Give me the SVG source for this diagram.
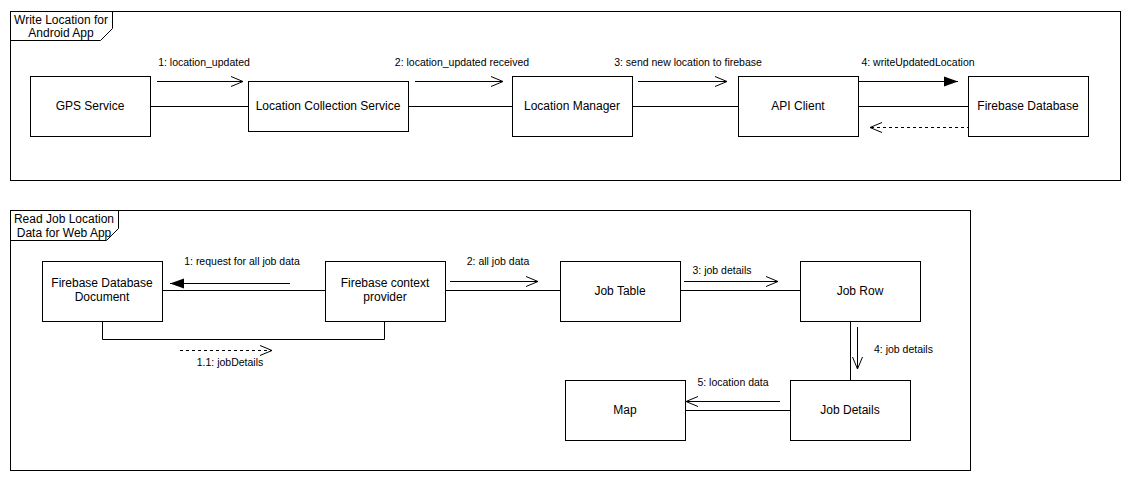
<svg xmlns="http://www.w3.org/2000/svg" width="1131" height="481" viewBox="0 0 1131 481">
<defs>
<marker id="open" markerWidth="14" markerHeight="12" refX="13" refY="6" orient="auto" markerUnits="userSpaceOnUse"><path d="M1,1 L13,6 L1,11" fill="none" stroke="#000" stroke-width="1"/></marker>
<marker id="fill" markerWidth="16" markerHeight="12" refX="15" refY="6" orient="auto" markerUnits="userSpaceOnUse"><path d="M1,1 L15,6 L1,11 Z" fill="#000"/></marker>
</defs>
<style>
rect.n{fill:#fff;stroke:#000;stroke-width:1}
text{font-family:"Liberation Sans",Arial,sans-serif;font-size:12px;fill:#000}
.t{text-anchor:middle}
.s{font-size:10.5px}
line,path.c{stroke:#000;stroke-width:1;fill:none}
</style>
<rect x="0" y="0" width="1131" height="481" fill="#fff"/>
<g id="frame1">
<rect x="10.5" y="11.5" width="1110" height="169" fill="none" stroke="#000"/>
<path d="M10.5,40.5 H100.5 L112.5,28.5 V11.5" fill="none" stroke="#000"/>
<text x="61" y="24" class="t">Write Location for</text>
<text x="61" y="37" class="t">Android App</text>
</g>
<g id="frame2">
<rect x="10.5" y="210.5" width="960" height="260" fill="none" stroke="#000"/>
<path d="M10.5,240.5 H106.5 L118.5,228.5 V210.5" fill="none" stroke="#000"/>
<text x="64" y="223" class="t">Read Job Location</text>
<text x="64" y="237" class="t">Data for Web App</text>
</g>
<g id="connectors">
<line x1="150" y1="106.5" x2="248" y2="106.5"/>
<line x1="408" y1="106.5" x2="512" y2="106.5"/>
<line x1="632" y1="106.5" x2="738" y2="106.5"/>
<line x1="858" y1="106.5" x2="968" y2="106.5"/>
<line x1="157" y1="81.5" x2="243" y2="81.5" marker-end="url(#open)"/>
<line x1="415" y1="81.5" x2="503" y2="81.5" marker-end="url(#open)"/>
<line x1="638" y1="81.5" x2="727" y2="81.5" marker-end="url(#open)"/>
<line x1="856" y1="81.5" x2="958" y2="81.5" stroke-width="2" marker-end="url(#fill)"/>
<line x1="970" y1="127.5" x2="870" y2="127.5" stroke-dasharray="3,3" marker-end="url(#open)"/>
<text x="204" y="66" class="t s">1: location_updated</text>
<text x="462" y="66" class="t s">2: location_updated received</text>
<text x="688" y="66" class="t s">3: send new location to firebase</text>
<text x="918" y="66" class="t s">4: writeUpdatedLocation</text>

<line x1="162" y1="290.5" x2="325" y2="290.5"/>
<path class="c" d="M102.5,321 V339.5 H384.5 V321"/>
<line x1="445" y1="290.5" x2="560" y2="290.5"/>
<line x1="680" y1="290.5" x2="800" y2="290.5"/>
<line x1="850.5" y1="321" x2="850.5" y2="380"/>
<line x1="685" y1="410.5" x2="790" y2="410.5"/>
<line x1="290" y1="283.5" x2="170" y2="283.5" stroke-width="2" marker-end="url(#fill)"/>
<line x1="180" y1="350.5" x2="272" y2="350.5" stroke-dasharray="3,3" marker-end="url(#open)"/>
<line x1="450" y1="281.5" x2="538" y2="281.5" marker-end="url(#open)"/>
<line x1="684" y1="281.5" x2="778" y2="281.5" marker-end="url(#open)"/>
<line x1="857.5" y1="327" x2="857.5" y2="369" marker-end="url(#open)"/>
<line x1="780" y1="401.5" x2="686" y2="401.5" marker-end="url(#open)"/>
<text x="242" y="265" class="t s">1: request for all job data</text>
<text x="230" y="366" class="t s">1.1: jobDetails</text>
<text x="498" y="265" class="t s">2: all job data</text>
<text x="722" y="274" class="t s">3: job details</text>
<text x="874" y="353" class="s">4: job details</text>
<text x="733" y="386" class="t s">5: location data</text>
</g>
<g id="gps"><rect class="n" x="30.5" y="76.5" width="120" height="60"/><text x="90" y="110" class="t">GPS Service</text></g>
<g id="lcs"><rect class="n" x="248.5" y="81.5" width="160" height="50"/><text x="328" y="110" class="t">Location Collection Service</text></g>
<g id="lm"><rect class="n" x="512.5" y="76.5" width="120" height="60"/><text x="572" y="110" class="t">Location Manager</text></g>
<g id="api"><rect class="n" x="738.5" y="76.5" width="120" height="60"/><text x="798" y="110" class="t">API Client</text></g>
<g id="fdb"><rect class="n" x="968.5" y="76.5" width="120" height="60"/><text x="1028" y="110" class="t">Firebase Database</text></g>
<g id="fdd"><rect class="n" x="42.5" y="261.5" width="120" height="60"/><text x="102" y="287" class="t">Firebase Database</text><text x="102" y="301" class="t">Document</text></g>
<g id="fcp"><rect class="n" x="325.5" y="261.5" width="120" height="60"/><text x="385" y="287" class="t">Firebase context</text><text x="385" y="301" class="t">provider</text></g>
<g id="jt"><rect class="n" x="560.5" y="261.5" width="120" height="60"/><text x="620" y="295" class="t">Job Table</text></g>
<g id="jr"><rect class="n" x="800.5" y="261.5" width="120" height="60"/><text x="860" y="295" class="t">Job Row</text></g>
<g id="jd"><rect class="n" x="790.5" y="380.5" width="120" height="60"/><text x="850" y="414" class="t">Job Details</text></g>
<g id="map"><rect class="n" x="565.5" y="380.5" width="120" height="60"/><text x="625" y="414" class="t">Map</text></g>
</svg>
